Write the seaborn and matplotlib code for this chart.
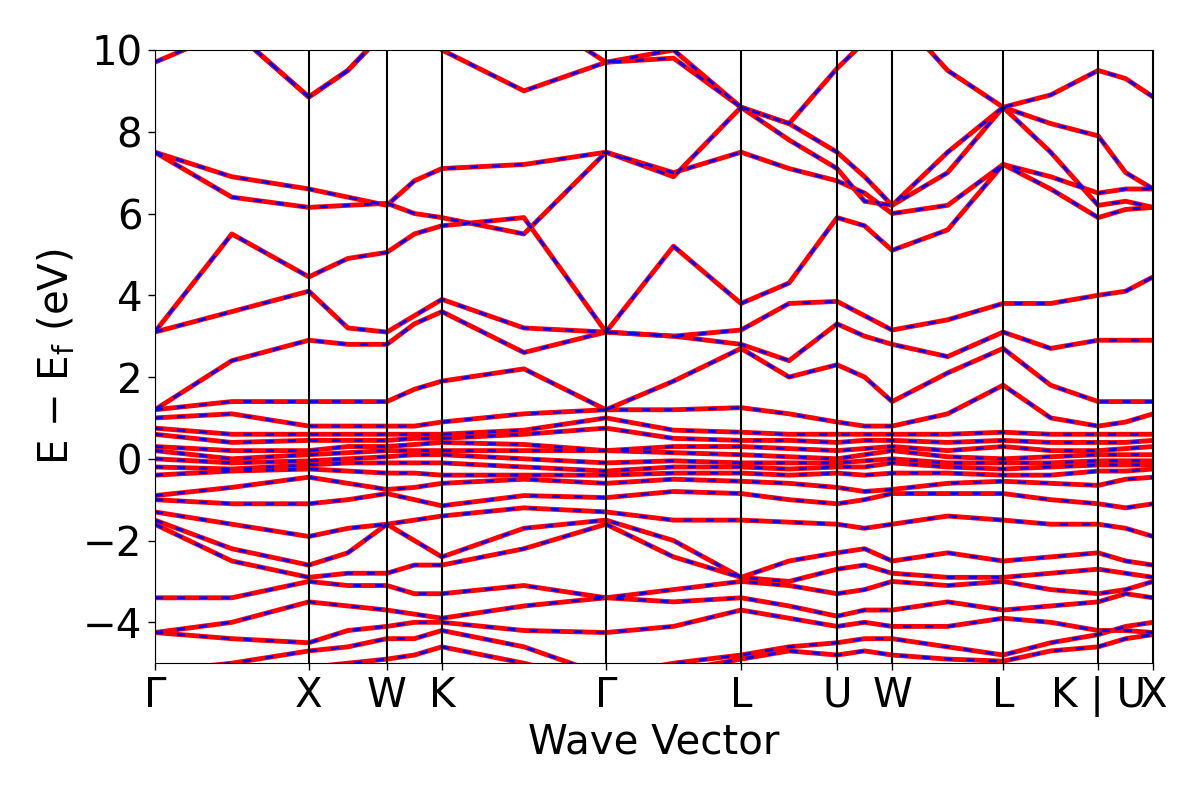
import numpy as np
import pandas as pd
import matplotlib
matplotlib.use("Agg")
import matplotlib.pyplot as plt
import seaborn as sns

kdist = [0, 0.77, 1.54, 1.93, 2.32, 2.595, 2.87, 3.69, 4.51, 5.185, 5.86, 6.34, 6.82, 7.095, 7.37, 7.925, 8.48, 8.955, 9.43, 9.705, 9.98]
hs_pos = [0, 1.54, 2.32, 2.87, 4.51, 5.86, 6.82, 7.37, 8.48, 9.43, 9.98]
hs_labels = ["Γ", "X", "W", "K", "Γ", "L", "U", "W", "L", "K | U", "X"]

bands = {
 "b0": [11, 10.5, 8.85, 9.5, 10.5, 10.5, 10, 9.0, 9.7, 9.8, 8.6, 8.2, 7.5, 6.9, 6.2, 7.5, 8.6, 8.2, 7.9, 7.0, 6.6],
 "b1": [9.7, 10.5, 8.85, 9.5, 10.5, 11, 11, 11, 9.7, 10, 8.6, 8.2, 9.55, 10.2, 11, 9.5, 8.6, 8.9, 9.5, 9.3, 8.85],
 "b2": [7.5, 6.9, 6.6, 6.4, 6.2, 6.8, 7.1, 7.2, 7.5, 7.0, 7.5, 7.1, 6.8, 6.5, 6.0, 6.2, 7.2, 6.9, 6.5, 6.6, 6.6],
 "b3": [7.5, 6.4, 6.15, 6.2, 6.25, 6.0, 5.9, 5.5, 7.5, 6.9, 8.6, 7.8, 7.1, 6.3, 6.2, 7.0, 8.6, 7.5, 6.2, 6.3, 6.15],
 "b4": [3.1, 5.5, 4.45, 4.9, 5.05, 5.5, 5.7, 5.9, 3.1, 5.2, 3.8, 4.3, 5.9, 5.7, 5.1, 5.6, 7.2, 6.6, 5.9, 6.1, 6.15],
 "b5": [3.1, 3.6, 4.1, 3.2, 3.1, 3.5, 3.9, 3.2, 3.1, 3.0, 3.15, 3.8, 3.85, 3.5, 3.15, 3.4, 3.8, 3.8, 4.0, 4.1, 4.45],
 "b6": [1.2, 2.4, 2.9, 2.8, 2.8, 3.3, 3.6, 2.6, 3.1, 3.0, 2.8, 2.4, 3.3, 3.0, 2.8, 2.5, 3.1, 2.7, 2.9, 2.9, 2.9],
 "b7": [1.2, 1.4, 1.4, 1.4, 1.4, 1.7, 1.9, 2.2, 1.2, 1.9, 2.7, 2.0, 2.3, 2.0, 1.4, 2.1, 2.7, 1.8, 1.4, 1.4, 1.4],
 "b8": [1.0, 1.1, 0.8, 0.8, 0.8, 0.8, 0.9, 1.1, 1.2, 1.2, 1.25, 1.1, 0.9, 0.8, 0.8, 1.1, 1.8, 1.0, 0.8, 0.9, 1.1],
 "f1": [0.75, 0.6, 0.6, 0.6, 0.6, 0.6, 0.6, 0.7, 1.0, 0.7, 0.65, 0.6, 0.6, 0.6, 0.6, 0.6, 0.65, 0.6, 0.6, 0.6, 0.6],
 "f2": [0.6, 0.4, 0.45, 0.45, 0.45, 0.5, 0.5, 0.6, 0.75, 0.5, 0.45, 0.45, 0.4, 0.45, 0.45, 0.4, 0.45, 0.4, 0.4, 0.4, 0.45],
 "f3": [0.3, 0.2, 0.2, 0.3, 0.3, 0.35, 0.4, 0.35, 0.2, 0.3, 0.3, 0.25, 0.2, 0.25, 0.3, 0.2, 0.3, 0.2, 0.2, 0.25, 0.3],
 "f4": [0.2, 0.0, 0.1, 0.15, 0.2, 0.2, 0.2, 0.2, 0.2, 0.15, 0.1, 0.05, 0.0, 0.1, 0.2, 0.05, 0.0, 0.05, 0.1, 0.1, 0.1],
 "f5": [0.0, -0.1, -0.05, 0.0, 0.05, 0.1, 0.1, 0.0, -0.1, -0.05, -0.1, -0.1, -0.1, -0.05, 0.0, -0.1, -0.1, -0.1, -0.05, -0.05, -0.05],
 "f6": [-0.2, -0.25, -0.15, -0.1, -0.1, -0.1, -0.1, -0.2, -0.3, -0.2, -0.2, -0.25, -0.2, -0.2, -0.1, -0.2, -0.25, -0.2, -0.15, -0.15, -0.15],
 "f7": [-0.4, -0.3, -0.25, -0.3, -0.35, -0.35, -0.4, -0.4, -0.4, -0.35, -0.35, -0.4, -0.35, -0.4, -0.35, -0.35, -0.4, -0.4, -0.3, -0.3, -0.25],
 "l1": [-0.9, -0.7, -0.45, -0.6, -0.75, -0.7, -0.6, -0.5, -0.6, -0.5, -0.55, -0.6, -0.7, -0.8, -0.75, -0.6, -0.55, -0.6, -0.65, -0.5, -0.45],
 "l2": [-1.0, -1.1, -1.1, -1.0, -0.85, -1.0, -1.15, -0.9, -0.95, -0.8, -0.85, -1.0, -1.1, -1.0, -0.85, -0.85, -0.85, -1.0, -1.1, -1.2, -1.1],
 "l3": [-1.3, -1.6, -1.9, -1.7, -1.6, -1.5, -1.4, -1.2, -1.3, -1.5, -1.5, -1.55, -1.6, -1.7, -1.6, -1.4, -1.5, -1.6, -1.6, -1.7, -1.9],
 "l4": [-1.5, -2.2, -2.6, -2.3, -1.6, -2.0, -2.4, -1.7, -1.5, -2.0, -2.9, -2.5, -2.3, -2.2, -2.5, -2.3, -2.5, -2.4, -2.3, -2.5, -2.6],
 "l5": [-1.6, -2.5, -2.9, -2.8, -2.8, -2.6, -2.6, -2.2, -1.6, -2.4, -2.9, -3.0, -2.7, -2.6, -2.8, -2.9, -2.9, -2.8, -2.7, -2.8, -2.9],
 "l6": [-3.4, -3.4, -3.0, -3.1, -3.1, -3.3, -3.3, -3.1, -3.4, -3.2, -3.0, -3.1, -3.3, -3.2, -3.0, -3.1, -3.0, -3.2, -3.3, -3.2, -3.0],
 "l7": [-4.25, -4.0, -3.5, -3.6, -3.7, -3.8, -3.9, -3.6, -3.4, -3.5, -3.4, -3.6, -3.85, -3.7, -3.7, -3.5, -3.7, -3.6, -3.5, -3.3, -3.4],
 "l8": [-4.25, -4.4, -4.5, -4.2, -4.1, -4.0, -4.0, -4.2, -4.25, -4.1, -3.7, -3.9, -4.1, -4.0, -4.1, -4.1, -3.9, -4.0, -4.2, -4.2, -4.25],
 "l9": [-5.2, -5.0, -4.7, -4.6, -4.4, -4.4, -4.2, -4.6, -5.3, -5.0, -4.8, -4.6, -4.5, -4.4, -4.4, -4.6, -4.8, -4.5, -4.3, -4.1, -4.0],
 "l10": [-5.5, -5.3, -5.1, -5.0, -4.9, -4.8, -4.6, -5.0, -5.5, -5.2, -4.9, -4.7, -4.8, -4.7, -4.8, -4.9, -4.95, -4.7, -4.6, -4.4, -4.3],
}

rows = []
for name, vals in bands.items():
    for k, e in zip(kdist, vals):
        rows.append((name, k, e))
df = pd.DataFrame(rows, columns=["band", "k", "E"])

sns.set_style("white")
plt.rcParams['font.family'] = ['DejaVu Sans']
plt.rcParams['text.color'] = 'black'
plt.rcParams['axes.labelcolor'] = 'black'
plt.rcParams['xtick.color'] = 'black'
plt.rcParams['ytick.color'] = 'black'
fig = plt.figure(figsize=(12, 8), dpi=100)
ax = fig.add_axes([0.129, 0.171, 0.832, 0.7665])

sns.lineplot(data=df, x="k", y="E", units="band", estimator=None, color="red", lw=3.5, ax=ax, sort=False)
sns.lineplot(data=df, x="k", y="E", units="band", estimator=None, color="blue", lw=2, ax=ax, sort=False, linestyle=(0, (3, 5)))

for p in hs_pos:
    ax.axvline(p, color="black", lw=1.5)
ax.set_xlim(0, 9.98)
ax.set_ylim(-5, 10)
ax.set_xticks(hs_pos)
ax.set_xticklabels(hs_labels)
ax.set_yticks([-4, -2, 0, 2, 4, 6, 8, 10])
ax.tick_params(axis="both", labelsize=29, length=5, width=1, direction="out", left=True, bottom=True, pad=4)
ax.set_xlabel("Wave Vector", fontsize=29)
ax.set_ylabel(r"E $-$ E$_\mathrm{f}$ (eV)", fontsize=29)
for s in ax.spines.values():
    s.set_color("black")
fig.savefig("out.png", dpi=100)
